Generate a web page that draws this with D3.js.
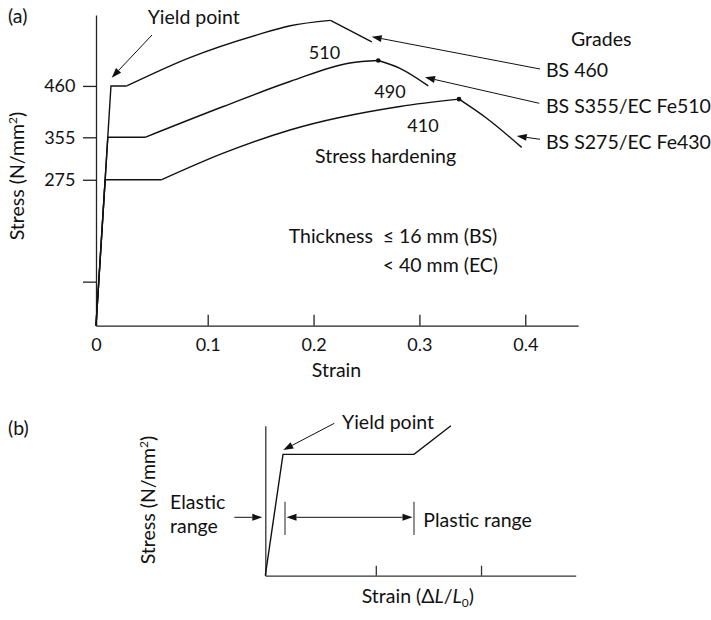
<!DOCTYPE html>
<html>
<head>
<meta charset="utf-8">
<script src="https://cdn.jsdelivr.net/npm/d3@7"></script>
<style>
  body { margin: 0; background: #fff; }
  text { font-family: Lato, "Open Sans", sans-serif; font-size: 19.5px; fill: #111; }
  text.num { font-size: 18px; }
</style>
</head>
<body>
<div id="chart"></div>
<script>

// ---- data ----
// (a) strain / stress (N/mm2) for the three grades
var strainTicks = [0, 0.1, 0.2, 0.3, 0.4];
var stressTicks = [83, 275, 355, 460];
var stressLabels = ["", "275", "355", "460"];

var bs460 = [[0, 0], [0.0134, 460], [0.0275, 460], [0.084, 518], [0.146, 564], [0.178, 583], [0.216, 594], [0.255, 550]];
var s355  = [[0, 0], [0.0106, 355], [0.0439, 355], [0.1147, 418], [0.1777, 469], [0.2344, 507], [0.2611, 512], [0.2816, 496], [0.3084, 460]];
var s275  = [[0, 0], [0.0082, 275], [0.0588, 275], [0.1147, 325], [0.1777, 370], [0.2816, 418], [0.3374, 433], [0.3635, 394], [0.3966, 336]];

var gradeNames = ["BS 460", "BS S355/EC Fe510", "BS S275/EC Fe430"];
var ultimateLabels = ["510", "490", "410"];
var peakDot = [false, true, true];

// (b) idealised curve, relative units
var idealTicks = [0.356, 0.695];
var ideal = [[0, 0], [0.057, 0.809], [0.479, 0.809], [0.598, 1]];

// ---- svg ----
var svg = d3.select("#chart")
  .append("svg")
    .attr("width", 711)
    .attr("height", 620);

// arrow with a filled head at (x2,y2)
function arrow(g, x1, y1, x2, y2, both) {
  var len = 10, w = 3.5;
  function head(tx, ty, fx, fy) {
    var a = Math.atan2(ty - fy, tx - fx);
    var bx = tx - len * Math.cos(a), by = ty - len * Math.sin(a);
    g.append("path")
      .attr("d", "M" + tx + "," + ty +
        "L" + (bx - w * Math.sin(a)) + "," + (by + w * Math.cos(a)) +
        "L" + (bx + w * Math.sin(a)) + "," + (by - w * Math.cos(a)) + "Z")
      .attr("fill", "#111");
    return [bx, by];
  }
  var e = head(x2, y2, x1, y1);
  var s = both ? head(x1, y1, x2, y2) : [x1, y1];
  g.append("line")
    .attr("x1", s[0]).attr("y1", s[1])
    .attr("x2", e[0]).attr("y2", e[1])
    .attr("stroke", "#111")
    .attr("stroke-width", 1);
}

// ================= (a) =================
var x = d3.scaleLinear()
  .domain([0, 0.1, 0.45])
  .range([96, 207.7, 578.2]);
var y = d3.scaleLinear()
  .domain([0, 355, 605])
  .range([325.7, 137.3, 15]);

var ga = svg.append("g");

// X axis (ticks pointing up)
var xAxis = ga.append("g")
  .attr("transform", "translate(0," + y(0) + ")")
  .call(d3.axisBottom(x)
    .tickValues(strainTicks)
    .tickSize(-11)
    .tickSizeOuter(0)
    .tickPadding(13)
    .tickFormat(function(d) { return d === 0 ? "0" : d3.format(".1f")(d); }));

// Y axis
var yAxis = ga.append("g")
  .attr("transform", "translate(" + x(0) + ",0)")
  .call(d3.axisLeft(y)
    .tickValues(stressTicks)
    .tickSize(13)
    .tickSizeOuter(0)
    .tickPadding(7.5)
    .tickFormat(function(d, i) { return stressLabels[i]; }));

ga.selectAll(".tick text")
  .attr("class", "num")
  .attr("font-family", null).attr("font-size", null)
  .attr("fill", "#111");
ga.selectAll("g").attr("font-family", null).attr("font-size", null);
ga.selectAll(".domain, .tick line").attr("stroke", "#222").attr("stroke-width", 1.3);

// curves
var straight = d3.line()
  .x(function(d) { return x(d[0]); })
  .y(function(d) { return y(d[1]); });
var smooth = d3.line()
  .x(function(d) { return x(d[0]); })
  .y(function(d) { return y(d[1]); })
  .curve(d3.curveMonotoneX);

[bs460, s355, s275].forEach(function(pts, i) {
  var peak = d3.maxIndex(pts, function(d) { return d[1]; });
  [straight(pts.slice(0, 3)), smooth(pts.slice(2, peak + 1)), smooth(pts.slice(peak))].forEach(function(p) {
    ga.append("path")
      .attr("d", p)
      .attr("fill", "none")
      .attr("stroke", "#111")
      .attr("stroke-width", 1.4);
  });
  if (peakDot[i]) {
    ga.append("circle")
      .attr("cx", x(pts[peak][0]))
      .attr("cy", y(pts[peak][1]))
      .attr("r", 2.3)
      .attr("fill", "#111");
  }
});

// labels (a)
ga.append("text").attr("x", 8).attr("y", 22.5).text("(a)");
ga.append("text").attr("x", 147.7).attr("y", 24).text("Yield point");
arrow(ga, 152, 35, 111.7, 77.7);

var ultPos = [[324.5, 59], [390, 98.3], [423, 131.7]];
ultimateLabels.forEach(function(t, i) {
  ga.append("text")
    .attr("class", "num")
    .attr("x", ultPos[i][0]).attr("y", ultPos[i][1])
    .attr("text-anchor", "middle")
    .text(t);
});

ga.append("text").attr("x", 571).attr("y", 45.7).text("Grades");
var gradeY = [77, 113, 149];
gradeNames.forEach(function(t, i) {
  ga.append("text").attr("x", 546).attr("y", gradeY[i]).text(t);
});
arrow(ga, 540, 69, 371.7, 36.7);
arrow(ga, 539.3, 103.3, 425, 77.3);
arrow(ga, 540, 139.3, 516.7, 136);

ga.append("text").attr("x", 315).attr("y", 163).text("Stress hardening");
ga.append("text").attr("x", 288.7).attr("y", 242.7).text("Thickness");
ga.append("text").attr("x", 382.7).attr("y", 242.7).text("\u2264 16 mm (BS)");
ga.append("text").attr("x", 382.7).attr("y", 271.7).text("< 40 mm (EC)");

ga.append("text")
  .attr("x", 336.5).attr("y", 377)
  .attr("text-anchor", "middle")
  .text("Strain");

var yl = ga.append("text")
  .attr("transform", "translate(24,176) rotate(-90)")
  .attr("text-anchor", "middle");
yl.append("tspan").text("Stress (N/mm");
yl.append("tspan").attr("baseline-shift", "super").style("font-size", "12px").text("2");
yl.append("tspan").text(")");

// ================= (b) =================
var xb = d3.scaleLinear().domain([0, 1]).range([265.3, 575.7]);
var yb = d3.scaleLinear().domain([0, 1]).range([575.7, 425.7]);

var gb = svg.append("g");

gb.append("g")
  .attr("transform", "translate(0," + yb(0) + ")")
  .call(d3.axisBottom(xb)
    .tickValues(idealTicks)
    .tickSize(-10)
    .tickSizeOuter(0)
    .tickFormat(""));
gb.append("g")
  .attr("transform", "translate(" + xb(0) + ",0)")
  .call(d3.axisLeft(yb).tickValues([]).tickSizeOuter(0));
gb.selectAll(".domain, .tick line").attr("stroke", "#333").attr("stroke-width", 1.3);

gb.append("path")
  .attr("d", d3.line()
    .x(function(d) { return xb(d[0]); })
    .y(function(d) { return yb(d[1]); })(ideal))
  .attr("fill", "none")
  .attr("stroke", "#111")
  .attr("stroke-width", 1.4);

gb.append("text").attr("x", 8).attr("y", 435).text("(b)");
gb.append("text").attr("x", 342).attr("y", 429.3).text("Yield point");
arrow(gb, 334.3, 423.3, 283.3, 450);

gb.append("text").attr("x", 170).attr("y", 509.3).text("Elastic");
gb.append("text").attr("x", 170).attr("y", 532.7).text("range");
arrow(gb, 234.3, 517.3, 262.3, 517.3);

// plastic range markers
[xb(ideal[1][0]) + 2, xb(ideal[2][0])].forEach(function(px) {
  gb.append("line")
    .attr("x1", px).attr("x2", px)
    .attr("y1", 501.7).attr("y2", 535)
    .attr("stroke", "#555")
    .attr("stroke-width", 1.3);
});
arrow(gb, 286.5, 517.3, 412.5, 517.3, true);
gb.append("text").attr("x", 423.3).attr("y", 526.7).text("Plastic range");

var xl = gb.append("text").attr("x", 361.7).attr("y", 602.5);
xl.append("tspan").text("Strain (\u0394");
xl.append("tspan").style("font-style", "italic").text("L");
xl.append("tspan").text("/");
xl.append("tspan").style("font-style", "italic").text("L");
xl.append("tspan").attr("baseline-shift", "-30%").style("font-size", "12px").text("0");
xl.append("tspan").text(")");

var ybl = gb.append("text")
  .attr("transform", "translate(155,500) rotate(-90)")
  .attr("text-anchor", "middle");
ybl.append("tspan").text("Stress (N/mm");
ybl.append("tspan").attr("baseline-shift", "super").style("font-size", "12px").text("2");
ybl.append("tspan").text(")");

</script>
</body>
</html>
